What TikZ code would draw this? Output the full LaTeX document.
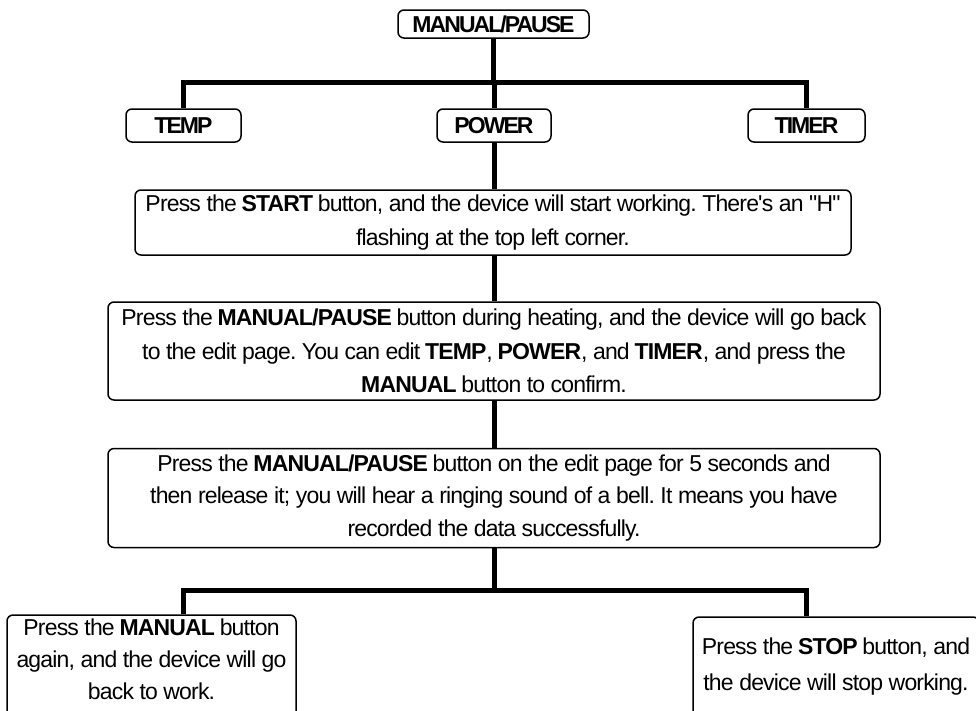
\documentclass[tikz,border=0pt]{standalone}
\usepackage{fontspec}
\setmainfont{Liberation Sans}[LetterSpace=-3.6,Ligatures=TeXOff]
\newfontfamily\tagfont{Liberation Sans}[LetterSpace=-8.5]
\begin{document}
\frenchspacing
\begin{tikzpicture}[x=1pt,y=-1pt,
  box/.style={draw=black,line width=1.5pt,rounded corners=6pt,inner sep=0pt,align=center,font=\fontsize{23}{33.5}\selectfont},
  txt/.style={inner sep=0pt,align=center,font=\fontsize{23}{32}\selectfont},
  tag/.style={box,font=\tagfont\fontsize{23}{24}\selectfont\bfseries},
  conn/.style={line width=5pt,line join=miter}]
\useasboundingbox (0,0) rectangle (976,710);
\begin{scope}
\clip (0,0) rectangle (976,710);
\node[tag,minimum width=191pt,minimum height=28pt] (mp) at (493.5,24) {MANUAL/PAUSE};
\node[tag,minimum width=115pt,minimum height=33pt] (temp) at (183.5,125.5) {TEMP};
\node[tag,minimum width=114pt,minimum height=33pt] (power) at (494,125.5) {POWER};
\node[tag,minimum width=117pt,minimum height=33pt] (timer) at (806.5,125.5) {TIMER};
\node[box,minimum width=716pt,minimum height=65pt] (b1) at (493,222.5)
  {Press the \textbf{START} button, and the device will start working. There's an "H"\\flashing at the top left corner.};
\node[box,minimum width=772pt,minimum height=98pt] (b2) at (494,351)
  {Press the \textbf{MANUAL/PAUSE} button during heating, and the device will go back\\to the edit page. You can edit \textbf{TEMP}, \textbf{POWER}, and \textbf{TIMER}, and press the\\\textbf{MANUAL} button to confirm.};
\node[box,minimum width=772pt,minimum height=99pt,font=\fontsize{23}{32.5}\selectfont] (b3) at (494,498)
  {Press the \textbf{MANUAL/PAUSE} button on the edit page for 5 seconds and\\then release it; you will hear a ringing sound of a bell. It means you have\\recorded the data successfully.};
\node[box,minimum width=289pt,minimum height=120pt] (bl) at (151.5,675) {};
\node[txt] (blt) at (151.5,659) {Press the \textbf{MANUAL} button\\again, and the device will go\\back to work.};
\node[box,minimum width=286pt,minimum height=130pt] (br) at (836,682) {};
\node[txt,font=\fontsize{23}{36}\selectfont] (brt) at (836,667) {Press the \textbf{STOP} button, and\\the device will stop working.};
\end{scope}
\coordinate (barT) at (0,82);
\coordinate (barB) at (0,590);
\coordinate (lx) at (183,0);
\coordinate (rx) at (806,0);
\draw[conn] (mp.south) -- (mp.south |- barT);
\draw[conn] (temp.north) -- (temp.north |- barT) -- (timer.north |- barT) -- (timer.north);
\draw[conn] (power.north) -- (power.north |- barT);
\draw[conn] (power.south) -- (b1.north -| power.south);
\draw[conn] (b1.south -| power.south) -- (b2.north -| power.south);
\draw[conn] (b2.south -| power.south) -- (b3.north -| power.south);
\draw[conn] (b3.south -| power.south) -- (power.south |- barB);
\draw[conn] (lx |- bl.north) -- (lx |- barB) -- (rx |- barB) -- (rx |- br.north);
\end{tikzpicture}
\end{document}
